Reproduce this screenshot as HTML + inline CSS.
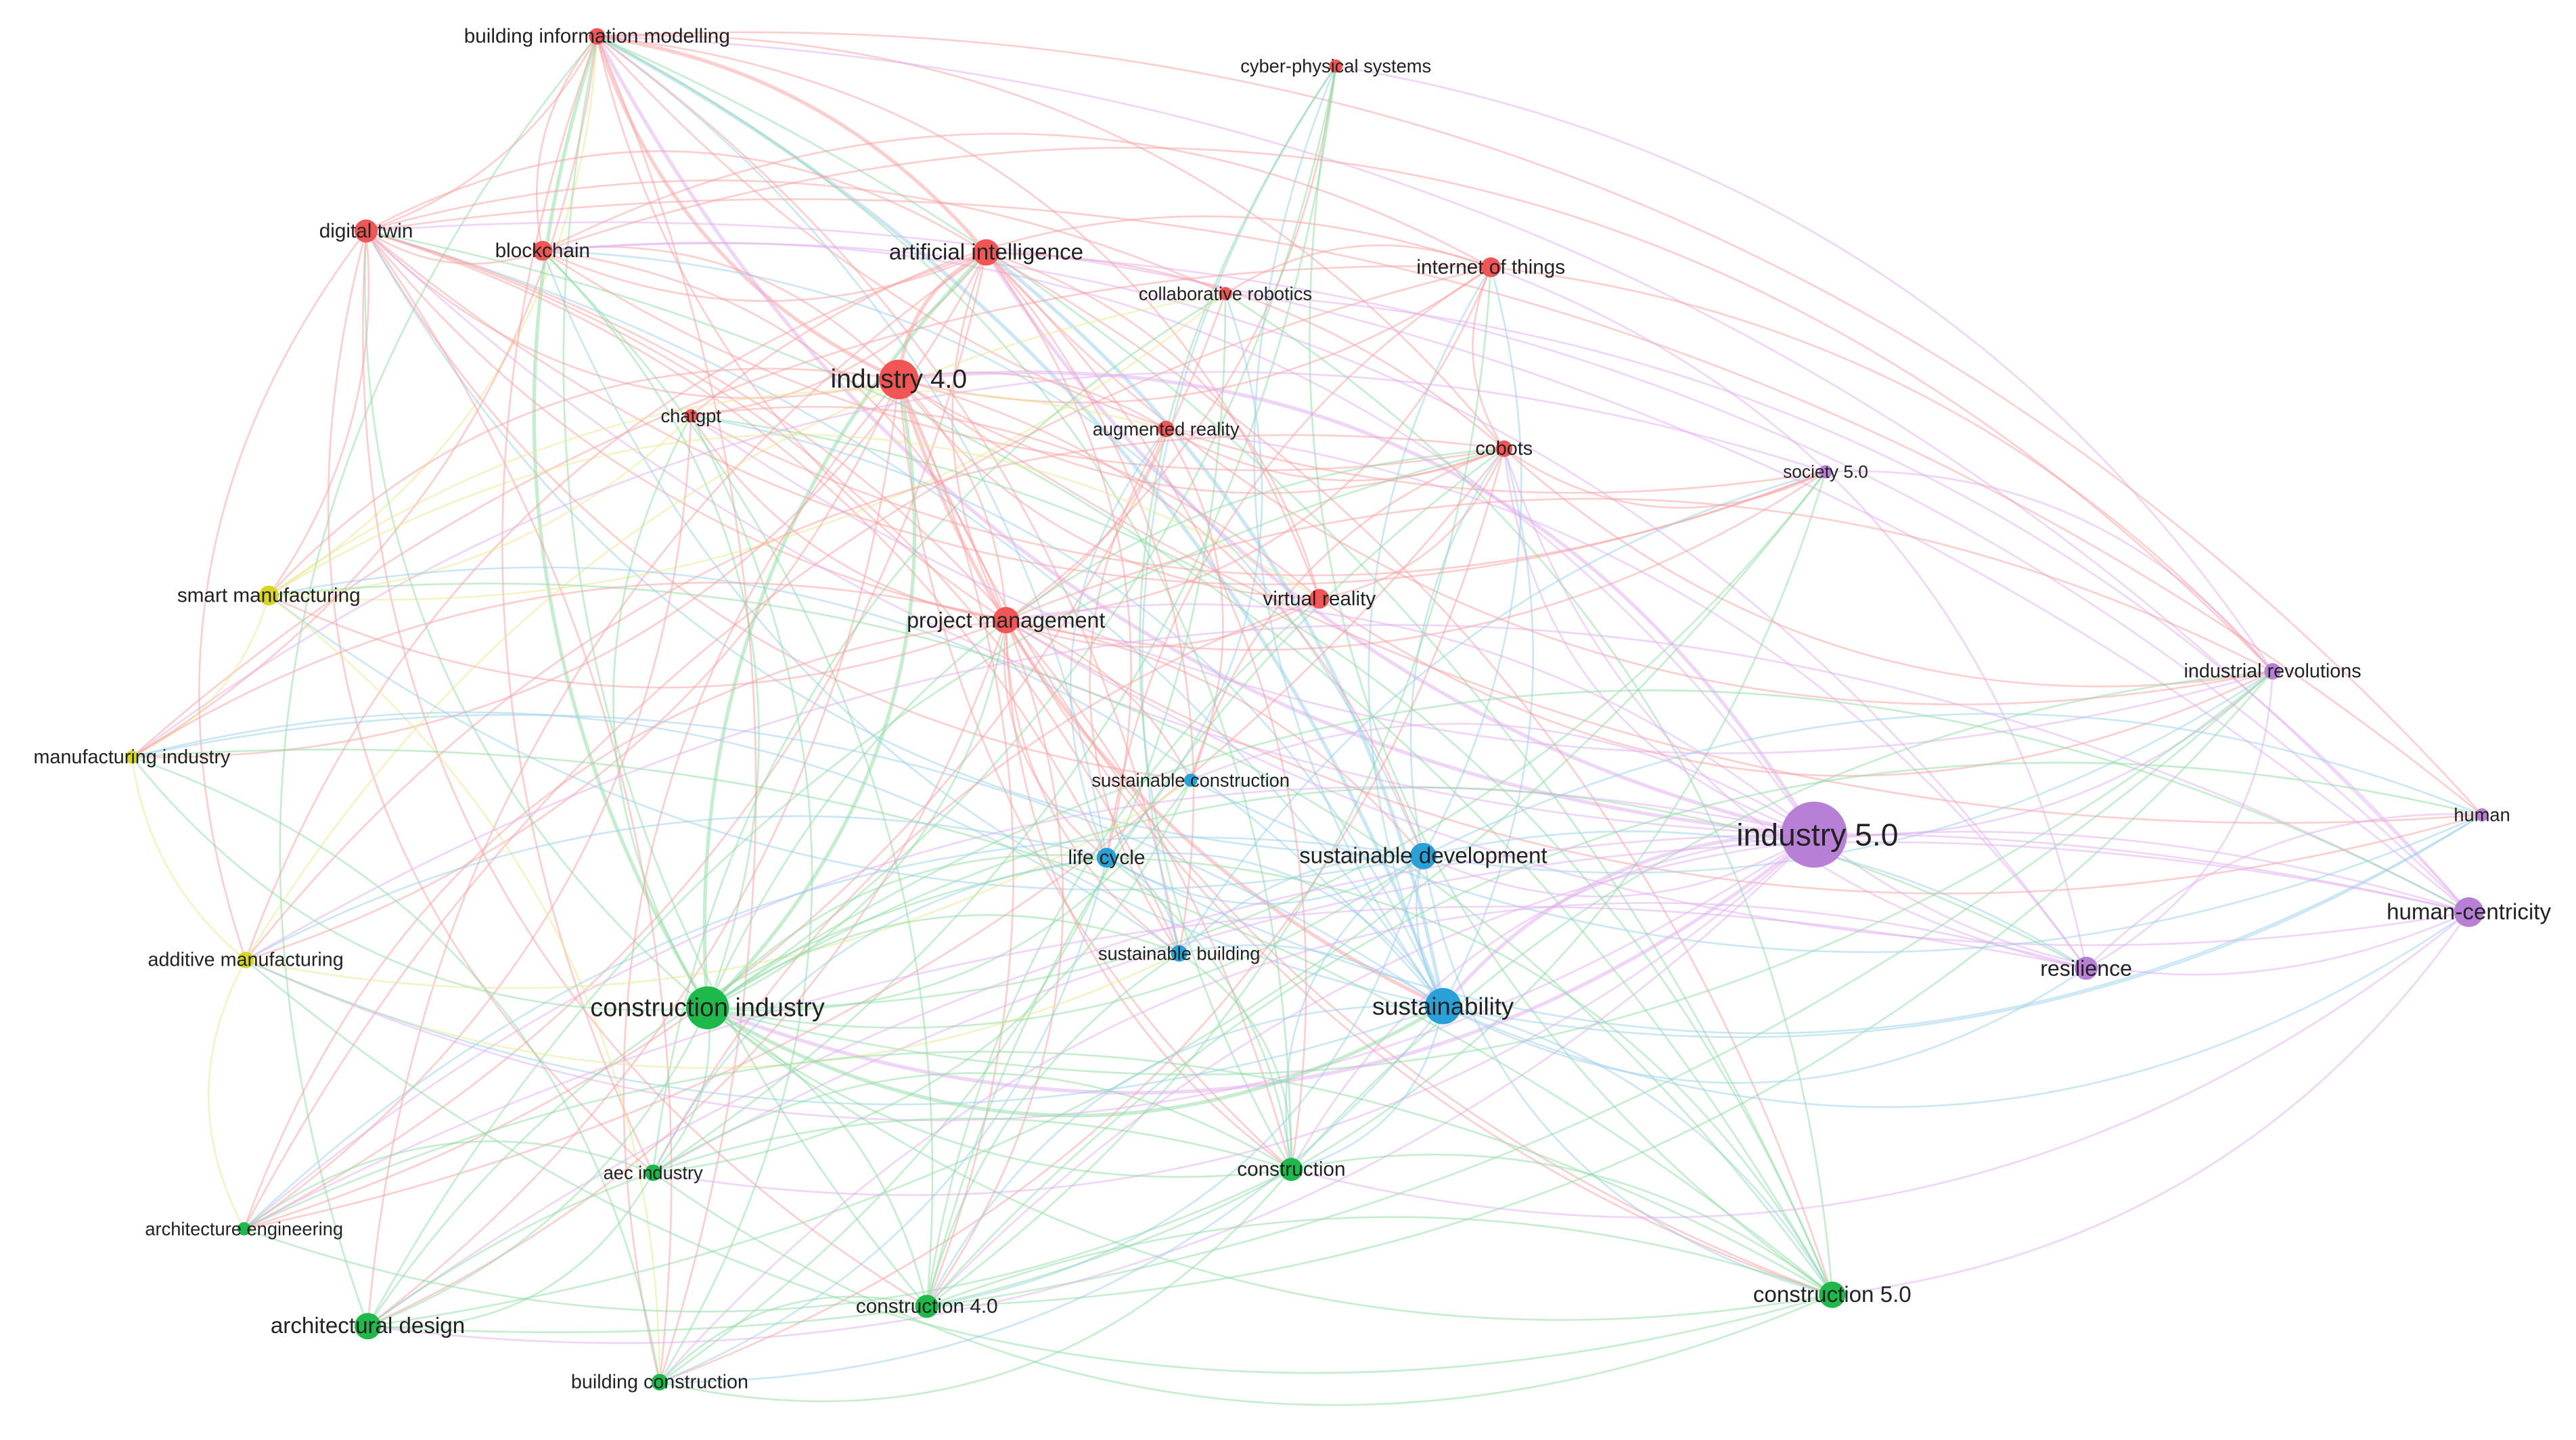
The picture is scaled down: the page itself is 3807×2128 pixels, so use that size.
<!DOCTYPE html>
<html><head><meta charset="utf-8"><style>
html,body{margin:0;padding:0;background:#fff;}
svg{display:block;}
text{font-family:"Liberation Sans","DejaVu Sans",sans-serif;fill:#222;text-anchor:middle;dominant-baseline:central;}
</style></head><body>
<svg id="s" width="3807" height="2128" viewBox="0 0 1562 873" xmlns="http://www.w3.org/2000/svg">
<rect width="1562" height="873" fill="#fff"/>
<g id="edges" fill="none"></g>
<g id="nodes"></g>
<g id="labels">
<text x="362" y="22" font-size="12.2">building information modelling</text>
<text x="810" y="40" font-size="11.2">cyber-physical systems</text>
<text x="222" y="140" font-size="12.2">digital twin</text>
<text x="329" y="152" font-size="12.2">blockchain</text>
<text x="598" y="153" font-size="13.6">artificial intelligence</text>
<text x="904" y="162" font-size="12.2">internet of things</text>
<text x="743" y="178" font-size="11.2">collaborative robotics</text>
<text x="545" y="230" font-size="16">industry 4.0</text>
<text x="419" y="252" font-size="11.2">chatgpt</text>
<text x="707" y="260" font-size="11.2">augmented reality</text>
<text x="912" y="272" font-size="11.8">cobots</text>
<text x="1107" y="286" font-size="10.8">society 5.0</text>
<text x="163" y="361" font-size="12.2">smart manufacturing</text>
<text x="610" y="376" font-size="13.2">project management</text>
<text x="800" y="363" font-size="12.2">virtual reality</text>
<text x="1378" y="407" font-size="11.8">industrial revolutions</text>
<text x="80" y="459" font-size="11.8">manufacturing industry</text>
<text x="722" y="473" font-size="11.2">sustainable construction</text>
<text x="1505" y="494" font-size="11.2">human</text>
<text x="1102" y="506" font-size="19">industry 5.0</text>
<text x="671" y="520" font-size="12.2">life cycle</text>
<text x="863" y="519" font-size="13.6">sustainable development</text>
<text x="1497" y="553" font-size="13.6">human-centricity</text>
<text x="149" y="582" font-size="11.8">additive manufacturing</text>
<text x="715" y="578" font-size="11.2">sustainable building</text>
<text x="429" y="611" font-size="15.5">construction industry</text>
<text x="875" y="610" font-size="15">sustainability</text>
<text x="1265" y="587" font-size="13.2">resilience</text>
<text x="783" y="709" font-size="12.2">construction</text>
<text x="396" y="711" font-size="11.2">aec industry</text>
<text x="148" y="745" font-size="11.2">architecture engineering</text>
<text x="223" y="804" font-size="13.6">architectural design</text>
<text x="1111" y="785" font-size="13.6">construction 5.0</text>
<text x="562" y="792" font-size="12.2">construction 4.0</text>
<text x="400" y="838" font-size="11.8">building construction</text>
</g>
</svg>
<script>
var C={r:"#f25555",y:"#d6d62a",b:"#2aa0d8",g:"#1fb84a",p:"#b77fd6"};
var EC={r:"#f7a0a0",y:"#e8e890",b:"#9acfea",g:"#8fdca3",p:"#e0aef0"};
var N=[
[362,22,5,"r",1],[810,40,4,"r",.4],[222,140,7,"r",.8],[329,152,6,"r",.8],[598,153,8,"r",1],[904,162,6,"r",.7],[743,178,4,"r",.4],[545,230,12,"r",1],[419,252,4,"r",.4],[707,260,5,"r",.5],[912,272,5,"r",.6],[1107,286,4,"p",.4],[163,361,6,"y",.5],[610,376,8,"r",.8],[800,363,6,"r",.6],[1378,407,5,"p",.6],[80,459,4,"y",.3],[722,473,4,"b",.5],[1505,494,4,"p",.3],[1100,506,20,"p",1],[671,520,6,"b",.7],[863,519,8,"b",.8],[1497,553,9,"p",.8],[149,582,5,"y",.4],[715,578,5,"b",.5],[429,611,13,"g",1],[875,610,11,"b",1],[1265,587,7,"p",.7],[783,709,7,"g",.7],[396,711,5,"g",.5],[148,745,4,"g",.5],[223,804,8,"g",.7],[1111,785,8,"g",.8],[562,792,7,"g",.7],[400,838,5,"g",.5]];
var ns="http://www.w3.org/2000/svg",E=document.getElementById("edges"),G=document.getElementById("nodes");
var seed=7;function rnd(){seed=(seed*9301+49297)%233280;return seed/233280;}
for(var i=0;i<N.length;i++)for(var j=i+1;j<N.length;j++){
 var a=N[i],b=N[j],p=a[4]*b[4]*0.9+0.05;
 if(rnd()>p)continue;
 var dx=b[0]-a[0],dy=b[1]-a[1];
 var s=((i+j)%2?1:-1)*(0.18+0.14*rnd());
 var cx=(a[0]+b[0])/2-dy*s,cy=(a[1]+b[1])/2+dx*s;
 var e=document.createElementNS(ns,"path");
 e.setAttribute("d","M"+a[0]+","+a[1]+" Q"+cx+","+cy+" "+b[0]+","+b[1]);
 var c=a[2]>=b[2]?a[3]:b[3];
 e.setAttribute("stroke",EC[c]);
 e.setAttribute("stroke-width",(a[4]*b[4]>0.8?2.2:1.1));
 e.setAttribute("stroke-opacity",0.5);
 E.appendChild(e);
}
N.forEach(function(n){var c=document.createElementNS(ns,"circle");c.setAttribute("cx",n[0]);c.setAttribute("cy",n[1]);c.setAttribute("r",n[2]);c.setAttribute("fill",C[n[3]]);G.appendChild(c);});
</script>
</body></html>
